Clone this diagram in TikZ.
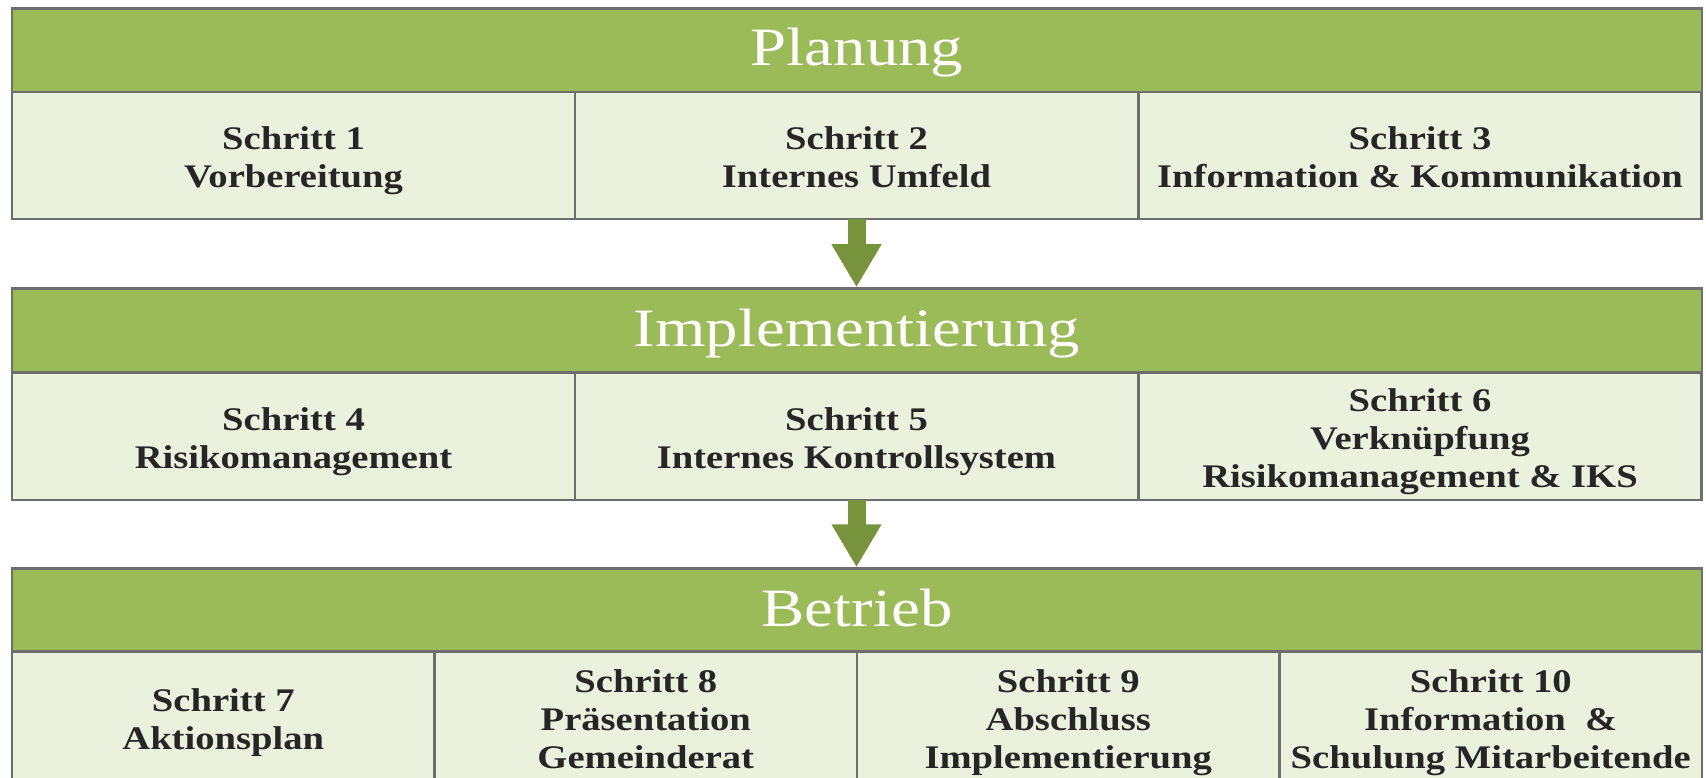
\documentclass[tikz,border=0pt]{standalone}
\usepackage{fontspec}
\setmainfont{Liberation Serif}
\newfontfamily\headfont[FakeStretch=1.2]{Liberation Serif}
\newfontfamily\stepfont[FakeStretch=1.17]{Liberation Serif}
\usetikzlibrary{arrows.meta}
\definecolor{bandgreen}{HTML}{9BBB59}
\definecolor{cellfill}{HTML}{EAF1DD}
\definecolor{arrowgreen}{HTML}{77933C}
\definecolor{rulegray}{HTML}{6E6E6E}
\definecolor{inkgray}{HTML}{262626}

\begin{document}
\begin{tikzpicture}[x=1pt,y=-1pt,
  band/.style={draw=rulegray, line width=2.5pt, fill=bandgreen,
    minimum width=1690pt, minimum height=84pt, inner sep=0pt,
    text height=39pt, text depth=8pt,
    text=white, font=\headfont\fontsize{54}{60}\selectfont},
  % fixed first-line height and last-line depth keep every step text
  % block optically centred, whatever letters it holds
  steptext/.style={align=center, text=inkgray, inner sep=0pt, yshift=-6pt,
    font=\stepfont\bfseries\fontsize{33}{38}\selectfont,
    execute at begin node={\rule{0pt}{35pt}},
    execute at end node={\rule[-8pt]{0pt}{8pt}}},
  cell/.style={draw=rulegray, line width=2.5pt, fill=cellfill, inner sep=0pt,
    label={[steptext]center:{#1}}},
  third/.style={cell={#1}, minimum width=563pt, minimum height=127pt},
  quarter/.style={cell={#1}, minimum width=422.5pt, minimum height=132pt},
  phasearrow/.style={arrowgreen, line width=18pt,
    -{Triangle[width=47pt,length=43pt]}}]

\useasboundingbox (0,0) rectangle (1706,778);
\clip (0,0) rectangle (1706,778);
\fill[white] (0,0) rectangle (1706,778);

% Phase 1: Planung
\node[band] (b1) at (857,50.5) {Planung};
\node[third={Schritt 1\\Vorbereitung}] (s1) at (293.5,155.5) {};
\node[third={Schritt 2\\Internes Umfeld}] (s2) at (856.5,155.5) {};
\node[third={Schritt 3\\Information \& Kommunikation}] (s3) at (1420,155.5) {};

% Phase 2: Implementierung
\node[band] (b2) at (857,330.5) {Implementierung};
\node[third={Schritt 4\\Risikomanagement}] (s4) at (293.5,436.5) {};
\node[third={Schritt 5\\Internes Kontrollsystem}] (s5) at (856.5,436.5) {};
\node[third={Schritt 6\\Verknüpfung\\Risikomanagement \& IKS}] (s6) at (1420,436.5) {};

% Phase 3: Betrieb
\node[band] (b3) at (857,610.5) {Betrieb};
\node[quarter={Schritt 7\\Aktionsplan}] (s7) at (223.25,717.5) {};
\node[quarter={Schritt 8\\Präsentation\\Gemeinderat}] (s8) at (645.75,717.5) {};
\node[quarter={Schritt 9\\Abschluss\\Implementierung}] (s9) at (1068.25,717.5) {};
\node[quarter={Schritt 10\\Information \ \&\\Schulung Mitarbeitende}] (s10) at (1490.75,717.5) {};

% Transitions between the phases
\draw[phasearrow] ([yshift=1.25pt]s2.south) -- (s2.south |- b2.north);
\draw[phasearrow] ([yshift=1.25pt]s5.south) -- (s5.south |- b3.north);
\end{tikzpicture}
\end{document}
